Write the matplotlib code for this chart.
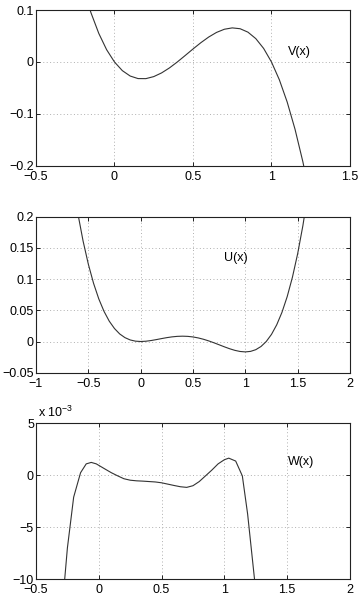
import matplotlib
matplotlib.use('Agg')
import matplotlib.pyplot as plt

plt.rcParams['font.family'] = ['Liberation Sans', 'DejaVu Sans']
plt.rcParams['font.size'] = 9

# V(x)
v_x = [-0.20, -0.15, -0.10, -0.05, 0.00, 0.05, 0.10, 0.15, 0.20, 0.25, 0.30, 0.35,
       0.40, 0.45, 0.50, 0.55, 0.60, 0.65, 0.70, 0.75, 0.80, 0.85, 0.90, 0.95,
       1.00, 1.05, 1.10, 1.15, 1.20, 1.25]
v_y = [0.144, 0.0949, 0.055, 0.0236, 0.0, -0.0166, -0.027, -0.0319, -0.032, -0.0281,
       -0.021, -0.0114, 0.0, 0.0124, 0.025, 0.0371, 0.048, 0.0569, 0.063, 0.0656,
       0.064, 0.0574, 0.045, 0.0261, 0.0, -0.0341, -0.077, -0.1294, -0.192, -0.2656]

# U(x), middle panel
u_x = [-0.65, -0.60, -0.55, -0.50, -0.45, -0.40, -0.35, -0.30, -0.25, -0.20, -0.15,
       -0.10, -0.05, 0.00, 0.05, 0.10, 0.15, 0.20, 0.25, 0.30, 0.35, 0.40, 0.45,
       0.50, 0.55, 0.60, 0.65, 0.70, 0.75, 0.80, 0.85, 0.90, 0.95, 1.00, 1.05,
       1.10, 1.15, 1.20, 1.25, 1.30, 1.35, 1.40, 1.45, 1.50, 1.55, 1.60]
u_y = [0.2573, 0.2052, 0.161, 0.124, 0.0933, 0.0683, 0.0483, 0.0326, 0.0208, 0.0121,
       0.0062, 0.0025, 0.00056, 0.0, 0.00044, 0.00156, 0.00305, 0.00467, 0.00619,
       0.00743, 0.00824, 0.00853, 0.00823, 0.00729, 0.00574, 0.0036, 0.00097,
       -0.00204, -0.00527, -0.00853, -0.01159, -0.01418, -0.01598, -0.01667,
       -0.01585, -0.01311, -0.00799, 0.0, 0.01139, 0.02676, 0.0467, 0.07187,
       0.10294, 0.14063, 0.18569, 0.23893]

# W(x), bottom panel, in units of 1e-3
w_x = [-0.30, -0.25, -0.20, -0.145, -0.10, -0.06, -0.02, 0.05, 0.10, 0.15, 0.20,
       0.25, 0.30, 0.35, 0.40, 0.45, 0.50, 0.55, 0.60, 0.65, 0.70, 0.75, 0.80,
       0.85, 0.90, 0.95, 1.00, 1.035, 1.09, 1.143, 1.185, 1.24, 1.26]
w_y = [-14.0, -7.0, -2.1, 0.25, 1.1, 1.24, 1.1, 0.6, 0.25, -0.05, -0.33,
       -0.47, -0.53, -0.56, -0.6, -0.64, -0.72, -0.85, -0.98, -1.1, -1.16, -1.0, -0.6,
       -0.05, 0.5, 1.1, 1.5, 1.65, 1.37, -0.06, -3.72, -10.0, -13.0]

fig = plt.figure(figsize=(3.62, 5.99), dpi=100)

panels = [
    (0.7229, v_x, v_y, (-0.5, 1.5), [-0.5, 0, 0.5, 1, 1.5], ['\u22120.5', '0', '0.5', '1', '1.5'],
     (-0.2, 0.1), [-0.2, -0.1, 0, 0.1], ['\u22120.2', '\u22120.1', '0', '0.1'], 'V(x)', (1.107, 0.02)),
    (0.3778, u_x, u_y, (-1, 2), [-1, -0.5, 0, 0.5, 1, 1.5, 2],
     ['\u22121', '\u22120.5', '0', '0.5', '1', '1.5', '2'],
     (-0.05, 0.2), [-0.05, 0, 0.05, 0.1, 0.15, 0.2], ['\u22120.05', '0', '0.05', '0.1', '0.15', '0.2'],
     'U(x)', (0.796, 0.134)),
    (0.0329, w_x, w_y, (-0.5, 2), [-0.5, 0, 0.5, 1, 1.5, 2], ['\u22120.5', '0', '0.5', '1', '1.5', '2'],
     (-10, 5), [-10, -5, 0, 5], ['\u221210', '\u22125', '0', '5'], 'W(x)', (1.508, 1.24)),
]

for bottom, xs, ys, xl, xt, xtl, yl, yt, ytl, label, pos in panels:
    ax = fig.add_axes([0.0994, bottom, 0.8674, 0.2604])
    ax.plot(xs, ys, color='#333333', lw=0.8)
    ax.set_xlim(*xl)
    ax.set_ylim(*yl)
    ax.set_xticks(xt)
    ax.set_xticklabels(xtl)
    ax.set_yticks(yt)
    ax.set_yticklabels(ytl)
    ax.grid(True, linestyle=(0, (1, 2.5)), color='#b0b0b0', lw=0.7)
    ax.tick_params(direction='in', length=3, width=0.6, top=True, right=True,
                   labelsize=9, colors='black')
    ax.tick_params(axis='x', pad=3.5)
    ax.tick_params(axis='y', pad=1.5)
    for s in ax.spines.values():
        s.set_linewidth(0.8)
        s.set_color('#222222')
    ax.text(pos[0], pos[1], label, ha='left', va='center', fontsize=9)
    if label == 'W(x)':
        ax.text(0.005, 1.02, 'x 10$^{\\mathregular{-3}}$', transform=ax.transAxes,
                ha='left', va='bottom', fontsize=9)

fig.savefig('out.png', dpi=100)
